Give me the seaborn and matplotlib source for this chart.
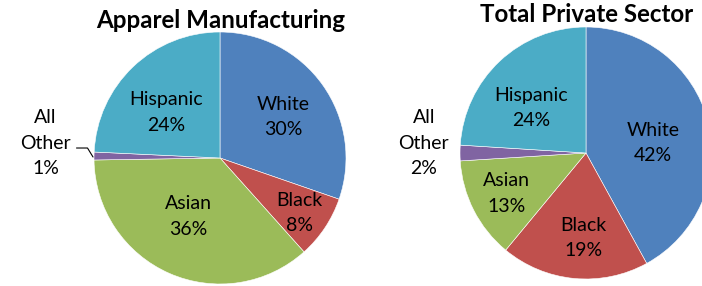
import numpy as np
import matplotlib
matplotlib.use("Agg")
import matplotlib.pyplot as plt
import seaborn as sns

# data
groups = ["White", "Black", "Asian", "All\nOther", "Hispanic"]
apparel = [30, 8, 36, 1, 24]
private = [42, 19, 13, 2, 24]
colors = ["#4F81BD", "#C0504D", "#9BBB59", "#8064A2", "#4BACC6"]

# label placement: distance from centre (fraction of radius) and angle nudge (deg)
apparel_dist = [0.60, 0.77, 0.53, 1.39, 0.56]
apparel_turn = [-2.5, -1.0, -5.0, -4.0, 6.0]
private_dist = [0.54, 0.675, 0.71, 1.29, 0.565]
private_turn = [-6.0, 3.4, 0.0, -3.5, 7.5]

sns.set_theme(style="white")
plt.rcParams["font.family"] = ["Lato", "DejaVu Sans"]

W, H = 702, 286
fig = plt.figure(figsize=(W / 100, H / 100), dpi=100)
ax = fig.add_axes([0, 0, 1, 1])
ax.set_xlim(0, W)
ax.set_ylim(0, H)
ax.set_aspect("equal")
ax.axis("off")

R = 126


def draw_pie(values, dists, turns, cx, cy, title, ty, leader):
    wedges, _ = ax.pie(values, colors=colors, startangle=90, counterclock=False,
                       center=(cx, cy), radius=R, frame=True,
                       wedgeprops=dict(edgecolor="white", linewidth=0.4))
    for w, name, v, d, t in zip(wedges, groups, values, dists, turns):
        mid = (w.theta1 + w.theta2) / 2
        a = np.deg2rad(mid + t)
        x = cx + d * R * np.cos(a)
        y = cy + d * R * np.sin(a)
        ax.text(x, y, "%s\n%d%%" % (name, v), ha="center", va="center",
                fontsize=14, linespacing=1.6, color="black")
        if leader and d > 1:
            ex = cx + R * np.cos(np.deg2rad(mid))
            ey = cy + R * np.sin(np.deg2rad(mid))
            lx = x + 31
            ly = y - 5
            ax.plot([lx, lx + 11, ex - 1], [ly, ly, ey - 1],
                    color="black", lw=0.8, solid_joinstyle="miter")
    ax.text(cx + 1, ty, title, ha="center", va="center", fontsize=17.4,
            fontweight="bold", color="black")


draw_pie(apparel, apparel_dist, apparel_turn, 220, H - 158,
         "Apparel Manufacturing", H - 20, True)
draw_pie(private, private_dist, private_turn, 586, H - 153,
         "Total Private Sector", H - 14, False)

ax.set_xlim(0, W)
ax.set_ylim(0, H)
ax.axis("off")
fig.savefig("out.png", dpi=100)
